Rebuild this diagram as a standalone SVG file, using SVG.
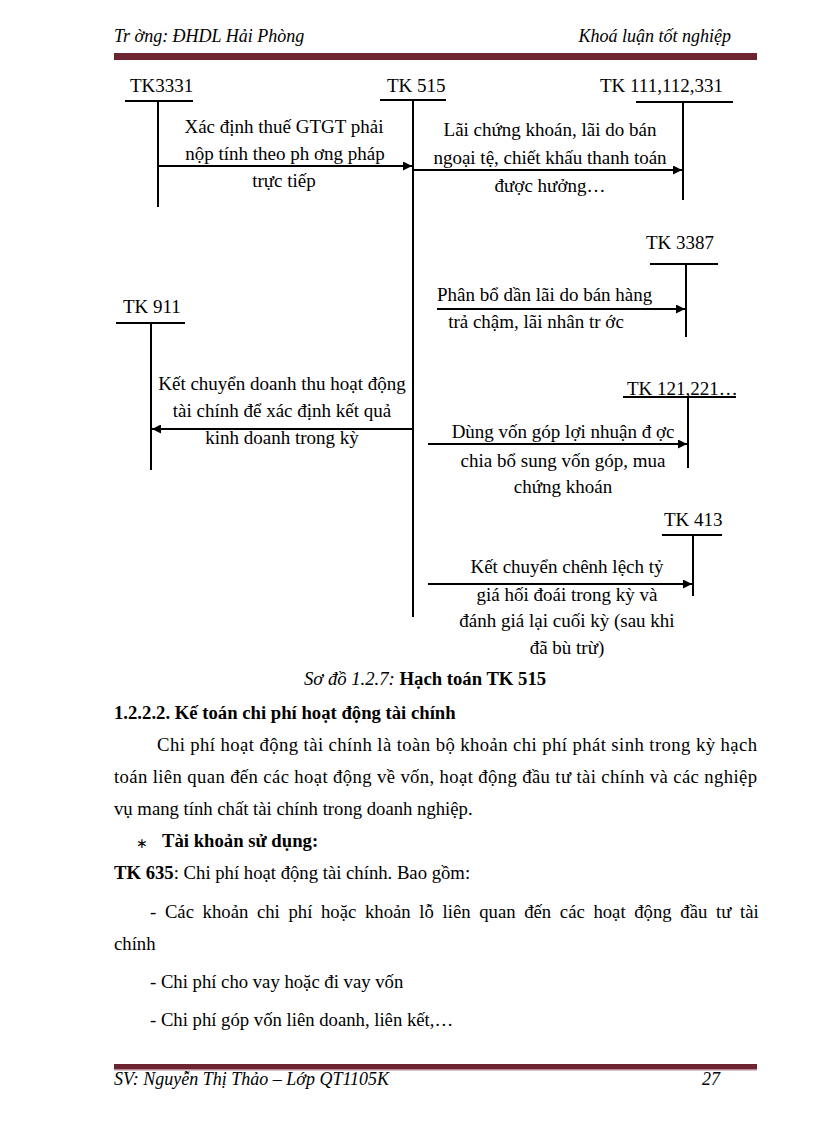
<svg xmlns="http://www.w3.org/2000/svg" width="816" height="1123" viewBox="0 0 816 1123">
<style>
text{font-family:"Liberation Serif","Times New Roman",serif;fill:#000}
.t{font-size:18.7px}
.d{font-size:19px}
.c{text-anchor:middle}
.i{font-style:italic}
.b{font-weight:bold}
.h{font-size:18px;font-style:italic}
.ln{stroke:#000;stroke-width:2;fill:none}
.ar{stroke:#000;stroke-width:2;fill:none;marker-end:url(#ah)}
</style>
<defs>
<marker id="ah" viewBox="0 0 10 10" refX="10" refY="5" markerWidth="6" markerHeight="4.5" orient="auto" markerUnits="strokeWidth">
<path d="M0,0 L10,5 L0,10 z" fill="#000"/>
</marker>
</defs>
<rect width="816" height="1123" fill="#fff"/>
<g id="header">
<text class="h" x="114" y="42">Tr  ờng: ĐHDL Hải Phòng</text>
<text class="h" x="731" y="42" text-anchor="end">Khoá luận tốt nghiệp</text>
<rect x="114" y="53" width="643" height="7" fill="#6b2430"/>
</g>
<g id="tk3331">
<text class="d" x="130" y="92">TK3331</text>
<line class="ln" x1="125" y1="101" x2="193" y2="101"/>
<line class="ln" x1="158" y1="101" x2="158" y2="207"/>
</g>
<g id="tk515">
<text class="d" x="387" y="92">TK 515</text>
<line class="ln" x1="380" y1="100" x2="446" y2="100"/>
<line class="ln" x1="413" y1="100" x2="413" y2="617"/>
</g>
<g id="tk111">
<text class="d" x="600" y="92">TK 111,112,331</text>
<line class="ln" x1="636" y1="102" x2="733" y2="102"/>
<line class="ln" x1="683" y1="102" x2="683" y2="200"/>
</g>
<g id="tk3387">
<text class="d" x="646" y="249">TK 3387</text>
<line class="ln" x1="650" y1="264" x2="718" y2="264"/>
<line class="ln" x1="686" y1="264" x2="686" y2="337"/>
</g>
<g id="tk911">
<text class="d" x="123" y="313">TK 911</text>
<line class="ln" x1="116" y1="323" x2="185" y2="323"/>
<line class="ln" x1="151" y1="323" x2="151" y2="470"/>
</g>
<g id="tk121">
<text class="d" x="627" y="395">TK 121,221…</text>
<line class="ln" x1="623" y1="397" x2="736" y2="397"/>
<line class="ln" x1="688" y1="397" x2="688" y2="468"/>
</g>
<g id="tk413">
<text class="d" x="664" y="526">TK 413</text>
<line class="ln" x1="662" y1="535" x2="722" y2="535"/>
<line class="ln" x1="693" y1="535" x2="693" y2="596"/>
</g>
<g id="connectors">
<line class="ar" x1="158" y1="166" x2="412" y2="166"/>
<line class="ar" x1="413" y1="170" x2="682" y2="170"/>
<line class="ar" x1="437" y1="309" x2="685" y2="309"/>
<line class="ar" x1="413" y1="429" x2="152" y2="429"/>
<line class="ar" x1="428" y1="444" x2="687" y2="444"/>
<line class="ar" x1="428" y1="584" x2="692" y2="584"/>
</g>
<g id="labels">
<text class="d c" x="284" y="133">Xác định thuế GTGT phải</text>
<text class="d c" x="285" y="160">nộp tính theo ph  ơng pháp</text>
<text class="d c" x="284" y="187">trực tiếp</text>
<text class="d c" x="550" y="136">Lãi chứng khoán, lãi do bán</text>
<text class="d c" x="550" y="164">ngoại tệ, chiết khấu thanh toán</text>
<text class="d c" x="550" y="192">được hưởng…</text>
<text class="d" x="437" y="301">Phân bổ dần lãi do bán hàng</text>
<text class="d c" x="536" y="328">trả chậm, lãi nhân tr  ớc</text>
<text class="d c" x="282" y="390">Kết chuyển doanh thu hoạt động</text>
<text class="d c" x="282" y="417">tài chính để xác định kết quả</text>
<text class="d c" x="282" y="444">kinh doanh trong kỳ</text>
<text class="d c" x="563" y="438">Dùng vốn góp lợi nhuận đ  ợc</text>
<text class="d c" x="563" y="467">chia bổ sung vốn góp, mua</text>
<text class="d c" x="563" y="493">chứng khoán</text>
<text class="d c" x="567" y="573">Kết chuyển chênh lệch tỷ</text>
<text class="d c" x="567" y="601">giá hối đoái trong kỳ và</text>
<text class="d c" x="567" y="627">đánh giá lại cuối kỳ (sau khi</text>
<text class="d c" x="567" y="654">đã bù trừ)</text>
</g>
<g id="body">
<text class="t c" x="425" y="685"><tspan class="i">Sơ đồ 1.2.7:</tspan><tspan class="b"> Hạch toán TK 515</tspan></text>
<text class="t b" x="114" y="719">1.2.2.2. Kế toán chi phí hoạt động tài chính</text>
<text class="t" x="157" y="751" textLength="600" lengthAdjust="spacing">Chi phí hoạt động tài chính là toàn bộ khoản chi phí phát sinh trong kỳ hạch</text>
<text class="t" x="114" y="783" textLength="643" lengthAdjust="spacing">toán liên quan đến các hoạt động về vốn, hoạt động đầu tư tài chính và các nghiệp</text>
<text class="t" x="114" y="815">vụ mang tính chất tài chính trong doanh nghiệp.</text>
<text x="136" y="848" font-size="14" fill="#333">∗</text>
<text class="t b" x="162" y="847">Tài khoản sử dụng:</text>
<text class="t" x="114" y="879"><tspan class="b">TK 635</tspan>: Chi phí hoạt động tài chính. Bao gồm:</text>
<text class="t" x="150" y="918" word-spacing="4">- Các khoản chi phí hoặc khoản lỗ liên quan đến các hoạt động đầu tư tài</text>
<text class="t" x="114" y="950">chính</text>
<text class="t" x="150" y="988">- Chi phí cho vay hoặc đi vay vốn</text>
<text class="t" x="150" y="1026">- Chi phí góp vốn liên doanh, liên kết,…</text>
</g>
<g id="footer">
<rect x="114" y="1064" width="643" height="5" fill="#6b2430"/>
<rect x="114" y="1069" width="643" height="1.5" fill="#b88a98"/>
<text class="h" x="114" y="1085">SV: Nguyễn Thị Thảo – Lớp QT1105K</text>
<text class="h" x="720" y="1085" text-anchor="end">27</text>
</g>
</svg>
